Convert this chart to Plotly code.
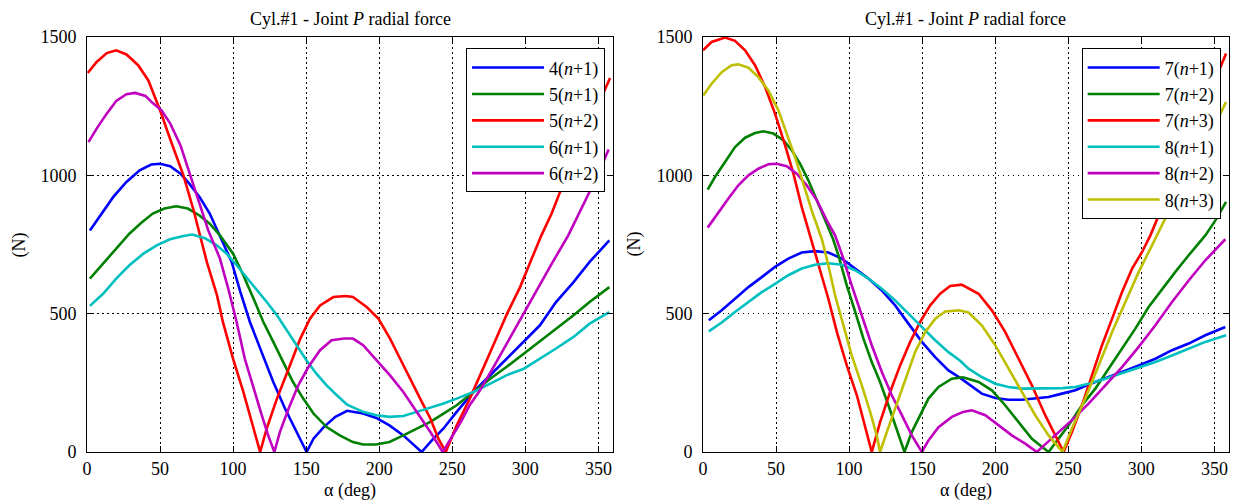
import plotly.graph_objects as go

# ---------------- Left panel data ----------------
L_blue_x = [2, 9, 18, 27, 36, 44, 50, 57, 64, 70, 77, 84, 91, 99, 105, 111.5, 119.5, 127.5, 135.5, 143.5, 150.3,
            155, 162, 170, 178, 189, 198, 207, 216.5, 229, 236, 244, 253, 264.5, 276, 287, 299, 310, 321, 333, 344, 357.5]
L_blue_y = [801, 855, 922, 976, 1018, 1039, 1042, 1033, 1006, 970, 922, 862, 783, 687, 578, 470, 361, 253, 157, 72, 0,
            48, 90, 127, 149, 139, 123, 96, 60, 0, 42, 85, 145, 217, 277, 337, 398, 458, 542, 614, 687, 765]

L_green_x = [2, 9, 18, 22.6, 29, 37, 45, 53, 61, 69, 77, 84, 91, 100, 107, 114, 120.7, 127.5, 134.4, 141, 148, 155,
             164, 173, 182, 189, 198, 207, 216.5, 225.7, 235, 244, 253, 264.5, 276, 287, 299, 310, 321, 333, 344, 357.5]
L_green_y = [627, 669, 723, 753, 789, 828, 862, 880, 888, 880, 855, 825, 783, 717, 639, 554, 470, 398, 325, 253, 193, 139,
             90, 60, 36, 27, 27, 36, 60, 85, 109, 139, 169, 217, 265, 307, 356, 398, 446, 494, 542, 596]

L_red_x = [0.5, 6.6, 13.5, 20, 27, 35, 42, 50, 58, 66, 73, 78.5, 82, 89, 93, 100, 107, 114, 118.5, 123, 130, 138, 146,
           152.6, 159.5, 168.6, 177, 182, 191.4, 199.4, 207.4, 214.3, 221, 228, 235, 240.5, 245.5, 253, 262, 269, 278,
           287.5, 296.4, 304.4, 311, 318, 326, 340, 355.7, 358]
L_red_y = [1370, 1410, 1442, 1452, 1437, 1398, 1343, 1235, 1115, 1000, 873, 760, 687, 566, 470, 337, 217, 85, 0, 85, 193,
           301, 410, 482, 530, 560, 564, 560, 524, 482, 410, 337, 265, 193, 121, 48, 0, 96, 193, 280, 385, 500, 596, 699,
           783, 862, 970, 1140, 1325, 1352]

L_cyan_x = [2, 11, 20, 29, 38.6, 47.7, 56.8, 66, 72, 80.7, 88.8, 95.6, 102.4, 109, 116, 123, 130, 136.6, 143.5, 150.3,
            157, 164, 171, 178, 189, 198, 207, 216.5, 225.7, 235, 244, 253, 264.5, 276, 287, 299, 310, 321, 333, 344, 357.5]
L_cyan_y = [528, 572, 627, 675, 717, 747, 769, 781, 786, 773, 747, 717, 675, 632, 590, 542, 494, 440, 386, 331,
            283, 241, 205, 171, 145, 133, 127, 130, 145, 159, 175, 193, 217, 247, 277, 301, 337, 374, 416, 464, 506]

L_mag_x = [1, 6.6, 13.5, 20, 27, 33, 40, 45, 51, 57, 64, 70.5, 77, 83, 91, 96.7, 102.4, 108, 114, 119.6, 124, 128.2,
           132, 138, 144.6, 151.5, 159.5, 167.4, 176, 182, 189, 198, 207.4, 216.5, 225.7, 235, 243.5, 248.5, 256, 262,
           269, 278, 288, 298.5, 308, 318, 329.4, 341, 349, 357]
L_mag_y = [1120, 1169, 1223, 1269, 1293, 1298, 1287, 1261, 1235, 1187, 1108, 1006, 898, 801, 699, 590, 470, 337, 229,
           133, 60, 0, 72, 157, 241, 307, 368, 404, 410, 410, 386, 331, 277, 217, 145, 72, 0, 45, 110, 170,
           223, 305, 400, 500, 590, 680, 783, 905, 995, 1093]

# ---------------- Right panel data ----------------
R_blue_x = [4, 12.8, 21.9, 31.1, 40.2, 49.3, 58.4, 67.6, 76.7, 85.8, 95, 104.1, 113.2, 122.4, 131.5, 140.6, 149.8,
            158.9, 168, 176, 181.7, 190.8, 200, 209.1, 218.3, 227.4, 236.5, 245.7, 254.8, 263.9, 275.3, 286.8, 298.2,
            309.6, 321, 332.4, 343.8, 357.5]
R_blue_y = [476, 512, 554, 596, 632, 669, 699, 721, 726, 721, 699, 663, 627, 584, 530, 464, 398,
            343, 295, 268, 247, 211, 195, 189, 189, 193, 199, 211, 223, 244, 265, 289, 313,
            337, 368, 392, 422, 452]

R_green_x = [3.2, 8.2, 15.1, 21.9, 28.8, 35.6, 41.3, 48.2, 55, 60.7, 66.4, 72.1, 77.9, 83.6, 89, 92.7, 98.4, 104.2,
             109.8, 115.5, 121.2, 126.9, 132.6, 137.9, 142.9, 147.5, 154.3, 161.2, 170.3, 178, 188.6, 197.7, 206.8,
             216, 225.1, 236.5, 243.3, 250.1, 259.4, 268.5, 277.6, 286.8, 295.9, 305, 314.2, 323.3, 332.4, 343.8,
             350.7, 358]
R_green_y = [948, 994, 1048, 1102, 1136, 1153, 1159, 1151, 1127, 1091, 1042, 982, 910, 837, 770, 711, 602, 506,
             410, 325, 253, 169, 85, 0, 72, 121, 193, 235, 265, 270, 253, 223, 169,
             108, 48, 0, 48, 96, 169, 229, 301, 374, 446, 524, 590, 651, 711, 783,
             837, 904]

R_red_x = [0, 5.9, 15.1, 21.9, 28.8, 35.6, 42.5, 49.3, 56.2, 61.9, 67.6, 73.5, 79, 85.8, 91.6, 98.4, 105.3, 111,
           115.5, 121.2, 128.1, 134.9, 141.8, 148.6, 155.5, 162.3, 169.2, 177, 188.6, 197.7, 206.8, 216, 225.1,
           234.2, 242.2, 246.8, 252.5, 259.4, 266.2, 273.1, 280, 286.8, 293.7, 300.5, 306.2, 310.7, 330, 355.2, 358]
R_red_y = [1452, 1482, 1498, 1486, 1452, 1398, 1319, 1223, 1108, 1006, 885, 775, 675, 554, 434, 313, 205, 96,
           0, 108, 217, 313, 398, 470, 530, 572, 600, 605, 572, 512, 434, 337, 241,
           133, 48, 0, 72, 169, 277, 386, 482, 578, 663, 723, 783, 840, 1090, 1410, 1440]

R_cyan_x = [4, 12.8, 21.9, 31.1, 40.2, 49.3, 58.4, 67.6, 76.7, 85.8, 95, 104.1, 113.2, 122.4, 131.5, 140.6, 149.8,
            158.9, 168, 176, 181.7, 190.8, 200, 209.1, 218.3, 227.4, 236.5, 245.7, 254.8, 263.9, 275.3, 286.8, 298.2,
            309.6, 321, 332.4, 343.8, 358]
R_cyan_y = [436, 468, 506, 542, 578, 608, 639, 663, 677, 682, 677, 657, 627, 590, 548, 500, 452,
            404, 361, 330, 301, 271, 247, 235, 229, 229, 229, 231, 235, 247, 265, 286, 304,
            325, 349, 374, 398, 422]

R_mag_x = [3.2, 10.5, 17.4, 24.2, 31.1, 37.9, 44.7, 50.5, 57.3, 64.2, 71, 77.9, 84.7, 90.4, 96.1, 101.8, 108.7,
           115.5, 122.4, 129.2, 136.1, 142.9, 149.8, 154.3, 161.2, 170.3, 178, 184, 193.2, 202.3, 211.4, 220.5,
           228.5, 235.3, 243.3, 252.5, 263.9, 275.3, 286.8, 298.2, 309.6, 321, 332.4, 343.8, 357.5]
R_mag_y = [811, 867, 916, 964, 1000, 1024, 1040, 1042, 1033, 1006, 964, 910, 837, 783, 699, 602, 494,
           386, 289, 205, 133, 60, 0, 42, 90, 127, 145, 151, 133, 96, 60, 30,
           0, 33, 72, 115, 175, 241, 307, 380, 458, 542, 620, 693, 769]

R_yel_x = [0.2, 5.9, 12.8, 19.6, 24.2, 31.1, 37.9, 44.7, 51.6, 57.3, 63, 68.7, 74.4, 81.3, 85.8, 90.4, 96.1, 101.8,
           108.7, 114.4, 118.9, 121.2, 125.8, 131.5, 138.4, 145.2, 152.1, 159, 165.8, 175, 181.7, 190.8, 200, 209.1,
           218.3, 227.4, 236.5, 246.1, 252.5, 261.6, 270.8, 280, 289.1, 298.2, 307.3, 316, 325, 340, 355.2, 358]
R_yel_y = [1289, 1331, 1373, 1398, 1401, 1389, 1355, 1307, 1235, 1151, 1066, 970, 873, 770, 675, 566, 458, 349,
           241, 145, 60, 0, 72, 157, 265, 361, 434, 482, 508, 512, 504, 458, 386, 301,
           217, 133, 60, 0, 85, 193, 313, 434, 542, 651, 747, 840, 925, 1075, 1235, 1265]

COLORS = {"blue": "#0000FF", "green": "#008000", "red": "#FF0000",
          "cyan": "#00BFBF", "magenta": "#BF00BF", "yellow": "#BFBF00"}

FONT = "Liberation Serif, Times New Roman, serif"
LW = 2.6

left_series = [
    ("4(<i>n</i>+1)", L_blue_x, L_blue_y, COLORS["blue"]),
    ("5(<i>n</i>+1)", L_green_x, L_green_y, COLORS["green"]),
    ("5(<i>n</i>+2)", L_red_x, L_red_y, COLORS["red"]),
    ("6(<i>n</i>+1)", L_cyan_x, L_cyan_y, COLORS["cyan"]),
    ("6(<i>n</i>+2)", L_mag_x, L_mag_y, COLORS["magenta"]),
]
right_series = [
    ("7(<i>n</i>+1)", R_blue_x, R_blue_y, COLORS["blue"]),
    ("7(<i>n</i>+2)", R_green_x, R_green_y, COLORS["green"]),
    ("7(<i>n</i>+3)", R_red_x, R_red_y, COLORS["red"]),
    ("8(<i>n</i>+1)", R_cyan_x, R_cyan_y, COLORS["cyan"]),
    ("8(<i>n</i>+2)", R_mag_x, R_mag_y, COLORS["magenta"]),
    ("8(<i>n</i>+3)", R_yel_x, R_yel_y, COLORS["yellow"]),
]

fig = go.Figure()
for name, xs, ys, c in left_series:
    fig.add_trace(go.Scatter(x=xs, y=ys, mode="lines", name=name, line=dict(color=c, width=LW),
                             xaxis="x", yaxis="y", legend="legend"))
for name, xs, ys, c in right_series:
    fig.add_trace(go.Scatter(x=xs, y=ys, mode="lines", name=name, line=dict(color=c, width=LW),
                             xaxis="x2", yaxis="y2", legend="legend2"))

axis_common = dict(
    showgrid=True, gridcolor="black", griddash="1.5px,3.5px", gridwidth=1.2,
    showline=True, linecolor="black", linewidth=1, mirror="ticks",
    ticks="inside", ticklen=6, tickcolor="black", tickwidth=1,
    zeroline=False, tickfont=dict(family=FONT, size=18, color="black"),
)
xt = [0, 50, 100, 150, 200, 250, 300, 350]
yt = [0, 500, 1000, 1500]

legend_common = dict(
    bgcolor="white", bordercolor="black", borderwidth=1,
    font=dict(family=FONT, size=18, color="black"),
    xanchor="right", yanchor="top", itemwidth=72, tracegroupgap=0,
)

fig.update_layout(
    width=1233, height=502,
    margin=dict(l=87, r=4, t=37, b=50),
    paper_bgcolor="white", plot_bgcolor="white",
    xaxis=dict(domain=[0, 0.4606], range=[0, 360], tickvals=xt, anchor="y", **axis_common),
    yaxis=dict(domain=[0, 1], range=[0, 1500], tickvals=yt, anchor="x", ticklabelstandoff=6, **axis_common),
    xaxis2=dict(domain=[0.5394, 1], range=[0, 360], tickvals=xt, anchor="y2", **axis_common),
    yaxis2=dict(domain=[0, 1], range=[0, 1500], tickvals=yt, anchor="x2", ticklabelstandoff=6, **axis_common),
    legend=dict(x=0.4536, y=0.9727, **legend_common),
    legend2=dict(x=0.9927, y=0.9727, **legend_common),
    showlegend=True,
)

ann_font = dict(family=FONT, size=18, color="black")
annotations = []
for xc in (0.2303, 0.7697):
    annotations.append(dict(text="Cyl.#1 - Joint <i>P</i> radial force", x=xc, y=1.0434, xref="paper", yref="paper",
                            xanchor="center", yanchor="middle", showarrow=False, font=ann_font))
    annotations.append(dict(text="α (deg)", x=xc, y=-0.0924, xref="paper", yref="paper",
                            xanchor="center", yanchor="middle", showarrow=False, font=ann_font))
for xn in (-0.0587, 0.479):
    annotations.append(dict(text="(N)", x=xn, y=0.5, xref="paper", yref="paper", textangle=-90,
                            xanchor="center", yanchor="middle", showarrow=False, font=ann_font))
fig.update_layout(annotations=annotations)

fig.write_html("out.html", post_script="document.body.style.margin='0';",
               config={"displayModeBar": False})
